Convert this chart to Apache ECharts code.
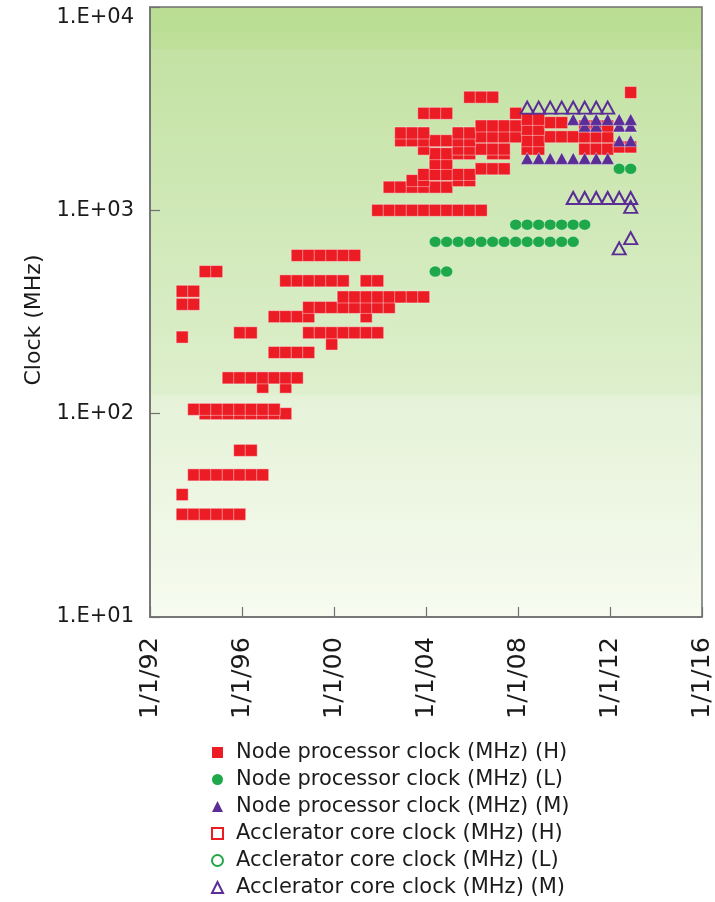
<!DOCTYPE html>
<html>
<head>
<meta charset="utf-8">
<title>Clock (MHz)</title>
<script src="https://cdn.jsdelivr.net/npm/echarts@6/dist/echarts.min.js"></script>
<style>
  html, body { margin: 0; padding: 0; background: #ffffff; }
  #chart { width: 715px; height: 902px; }
</style>
</head>
<body>
<div id="chart"></div>
<script>
// Each row: [clock in MHz, [list dates as decimal years]]
const nodeHigh1990s = [
  [32,  [1993.4, 1993.9, 1994.4, 1994.9, 1995.4, 1995.9]],
  [40,  [1993.4]],
  [50,  [1993.9, 1994.4, 1994.9, 1995.4, 1995.9, 1996.4, 1996.9]],
  [66,  [1995.9, 1996.4]],
  [100, [1994.4, 1994.9, 1995.4, 1995.9, 1996.4, 1996.9, 1997.4, 1997.9]],
  [105, [1993.9, 1994.4, 1994.9, 1995.4, 1995.9, 1996.4, 1996.9, 1997.4]],
  [135, [1996.9, 1997.9]],
  [150, [1995.4, 1995.9, 1996.4, 1996.9, 1997.4, 1997.9, 1998.4]],
  [200, [1997.4, 1997.9, 1998.4, 1998.9]],
  [220, [1999.9]],
  [238, [1993.4]],
  [250, [1995.9, 1996.4, 1998.9, 1999.4, 1999.9, 2000.4, 2000.9, 2001.4, 2001.9]],
  [300, [1997.4, 1997.9, 1998.4, 1998.9, 2001.4]],
  [333, [1998.9, 1999.4, 1999.9, 2000.4, 2000.9, 2001.4, 2001.9, 2002.4]],
  [345, [1993.4, 1993.9]],
  [375, [2000.4, 2000.9, 2001.4, 2001.9, 2002.4, 2002.9, 2003.4, 2003.9]],
  [400, [1993.4, 1993.9]],
  [450, [1997.9, 1998.4, 1998.9, 1999.4, 1999.9, 2000.4, 2001.4, 2001.9]],
  [500, [1994.4, 1994.9]],
  [600, [1998.4, 1998.9, 1999.4, 1999.9, 2000.4, 2000.9]]
];

const nodeHigh2000s = [
  [1000, [2001.9, 2002.4, 2002.9, 2003.4, 2003.9, 2004.4, 2004.9, 2005.4, 2005.9, 2006.4]],
  [1300, [2002.4, 2002.9, 2003.4, 2003.9, 2004.4, 2004.9]],
  [1400, [2003.4, 2003.9, 2005.4, 2005.9]],
  [1500, [2003.9, 2004.4, 2004.9, 2005.4, 2005.9]],
  [1600, [2006.4, 2006.9, 2007.4]],
  [1700, [2004.4, 2004.9]],
  [1900, [2004.4, 2004.9, 2005.4, 2005.9, 2006.9, 2007.4]],
  [2000, [2003.9, 2005.4, 2005.9, 2006.4, 2006.9, 2007.4, 2008.4, 2008.9, 2010.9, 2011.4, 2011.9]],
  [2050, [2012.4, 2012.9]],
  [2200, [2002.9, 2003.4, 2003.9, 2004.4, 2004.9, 2005.4, 2005.9, 2008.4, 2008.9]],
  [2300, [2006.4, 2006.9, 2007.4, 2007.9, 2009.4, 2009.9, 2010.4, 2010.9, 2011.4, 2011.9]],
  [2400, [2002.9, 2003.4, 2003.9, 2005.4, 2005.9]],
  [2500, [2008.4, 2008.9]],
  [2600, [2006.4, 2006.9, 2007.4, 2007.9, 2010.9, 2011.4, 2011.9]],
  [2700, [2009.4, 2009.9]],
  [2800, [2008.4, 2008.9]],
  [3000, [2003.9, 2004.4, 2004.9, 2007.9]],
  [3600, [2005.9, 2006.4, 2006.9]],
  [3800, [2012.9]]
];

const nodeLow = [
  [500,  [2004.4, 2004.9]],
  [700,  [2004.4, 2004.9, 2005.4, 2005.9, 2006.4, 2006.9, 2007.4, 2007.9, 2008.4, 2008.9, 2009.4, 2009.9, 2010.4]],
  [850,  [2007.9, 2008.4, 2008.9, 2009.4, 2009.9, 2010.4, 2010.9]],
  [1600, [2012.4, 2012.9]]
];

const nodeMid = [
  [1800, [2008.4, 2008.9, 2009.4, 2009.9, 2010.4, 2010.9, 2011.4, 2011.9]],
  [2200, [2012.4, 2012.9]],
  [2600, [2010.9, 2011.4, 2012.4, 2012.9]],
  [2800, [2010.4, 2010.9, 2011.4, 2011.9, 2012.4, 2012.9]]
];

const accelHigh = [];
const accelLow = [];
const accelMid = [
  [650,  [2012.4]],
  [730,  [2012.9]],
  [1040, [2012.9]],
  [1150, [2010.4, 2010.9, 2011.4, 2011.9, 2012.4, 2012.9]],
  [3200, [2008.4, 2008.9, 2009.4, 2009.9, 2010.4, 2010.9, 2011.4, 2011.9]]
];

const seriesNames = [
  'Node processor clock (MHz) (H)',
  'Node processor clock (MHz) (L)',
  'Node processor clock (MHz) (M)',
  'Acclerator core clock (MHz) (H)',
  'Acclerator core clock (MHz) (L)',
  'Acclerator core clock (MHz) (M)'
];

const xTickYears  = [1992, 1996, 2000, 2004, 2008, 2012, 2016];
const xTickLabels = ['1/1/92', '1/1/96', '1/1/00', '1/1/04', '1/1/08', '1/1/12', '1/1/16'];
const yTickValues = [10, 100, 1000, 10000];
const yTickLabels = ['1.E+01', '1.E+02', '1.E+03', '1.E+04'];

// turn [clock, [dates]] rows into [date, clock] points
function toPoints(rows) {
  const out = [];
  rows.forEach(([mhz, dates]) => dates.forEach(d => out.push([d, mhz])));
  return out;
}

const RED = '#ec1c24';
const GREEN = '#1ea84a';
const PURPLE = '#5b2d96';
const AXIS = '#707070';
const TEXT = '#1b1b1b';
const FONT = '"DejaVu Sans", "Open Sans", sans-serif';

const chart = echarts.init(document.getElementById('chart'), null, { renderer: 'canvas' });

const filled = (color) => ({ color: color, opacity: 1, borderColor: 'rgba(255,255,255,0.5)', borderWidth: 0.8 });
const hollow = (color) => ({ color: 'rgba(0,0,0,0)', opacity: 1, borderColor: color, borderWidth: 2 });

chart.setOption({
  animation: false,
  backgroundColor: '#ffffff',
  grid: {
    left: 150, right: 11, top: 7, bottom: 285,
    show: true,
    borderColor: AXIS,
    borderWidth: 1.5,
    backgroundColor: new echarts.graphic.LinearGradient(0, 0, 0, 1, [
      { offset: 0, color: '#b9dd92' },
      { offset: 0.068, color: '#bee09a' },
      { offset: 0.072, color: '#c3e2a3' },
      { offset: 0.32, color: '#cfe8b6' },
      { offset: 0.63, color: '#ddefcc' },
      { offset: 0.64, color: '#e5f2d8' },
      { offset: 1, color: '#f7fbf0' }
    ])
  },
  xAxis: {
    type: 'value',
    min: xTickYears[0],
    max: xTickYears[xTickYears.length - 1],
    interval: xTickYears[1] - xTickYears[0],
    axisLine: { show: true, lineStyle: { color: AXIS, width: 1.5 } },
    axisTick: { show: true, inside: true, length: 10, lineStyle: { color: AXIS, width: 1.2 } },
    axisLabel: {
      rotate: 90,
      margin: 20,
      fontSize: 25.5,
      fontFamily: FONT,
      color: TEXT,
      formatter: (v) => xTickLabels[xTickYears.indexOf(v)] || ''
    },
    splitLine: { show: false }
  },
  yAxis: {
    type: 'log',
    logBase: 10,
    min: yTickValues[0],
    max: yTickValues[yTickValues.length - 1],
    name: 'Clock (MHz)',
    nameLocation: 'middle',
    nameGap: 103,
    nameTextStyle: { fontSize: 22, fontFamily: FONT, color: TEXT, padding: [0, 16, 0, 0] },
    axisLine: { show: true, lineStyle: { color: AXIS, width: 1.5 } },
    axisTick: { show: true, inside: true, length: 10, lineStyle: { color: AXIS, width: 1.2 } },
    minorTick: { show: false },
    axisLabel: {
      margin: 16,
      fontSize: 21,
      fontFamily: FONT,
      color: TEXT,
      verticalAlignMaxLabel: 'top',
      formatter: (v) => {
        const i = yTickValues.findIndex(t => Math.abs(t - v) < t * 1e-6);
        return i >= 0 ? yTickLabels[i] : '';
      }
    },
    splitLine: { show: false }
  },
  legend: {
    orient: 'vertical',
    left: 211,
    top: 742,
    height: 200,
    padding: 0,
    itemWidth: 11,
    itemHeight: 11,
    itemGap: 6,
    selectedMode: false,
    textStyle: { fontSize: 21, fontFamily: FONT, color: TEXT, lineHeight: 21, padding: [0, 0, 0, 8] },
    data: [
      { name: seriesNames[0], icon: 'rect', itemStyle: { color: RED, borderWidth: 0 } },
      { name: seriesNames[1], icon: 'circle', itemStyle: { color: GREEN, borderWidth: 0 } },
      { name: seriesNames[2], icon: 'triangle', itemStyle: { color: PURPLE, borderWidth: 0 } },
      { name: seriesNames[3], icon: 'rect', itemStyle: { color: '#ffffff', borderColor: RED, borderWidth: 2 } },
      { name: seriesNames[4], icon: 'circle', itemStyle: { color: '#ffffff', borderColor: GREEN, borderWidth: 2 } },
      { name: seriesNames[5], icon: 'triangle', itemStyle: { color: '#ffffff', borderColor: PURPLE, borderWidth: 2 } }
    ]
  },
  series: [
    {
      name: seriesNames[0], type: 'scatter', symbol: 'rect', symbolSize: 12,
      data: toPoints(nodeHigh1990s).concat(toPoints(nodeHigh2000s)),
      itemStyle: filled(RED), emphasis: { disabled: true }
    },
    {
      name: seriesNames[1], type: 'scatter', symbol: 'circle', symbolSize: [12, 11],
      data: toPoints(nodeLow),
      itemStyle: filled(GREEN), emphasis: { disabled: true }
    },
    {
      name: seriesNames[2], type: 'scatter', symbol: 'triangle', symbolSize: [13, 12],
      data: toPoints(nodeMid),
      itemStyle: filled(PURPLE), emphasis: { disabled: true }
    },
    {
      name: seriesNames[3], type: 'scatter', symbol: 'rect', symbolSize: 12,
      data: toPoints(accelHigh),
      itemStyle: hollow(RED), emphasis: { disabled: true }
    },
    {
      name: seriesNames[4], type: 'scatter', symbol: 'circle', symbolSize: 12,
      data: toPoints(accelLow),
      itemStyle: hollow(GREEN), emphasis: { disabled: true }
    },
    {
      name: seriesNames[5], type: 'scatter', symbol: 'triangle', symbolSize: [13, 12],
      data: toPoints(accelMid),
      itemStyle: hollow(PURPLE), emphasis: { disabled: true }
    }
  ]
});
</script>
</body>
</html>
